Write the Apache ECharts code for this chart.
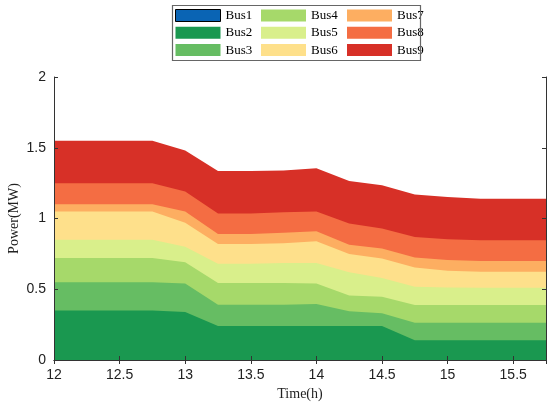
<!DOCTYPE html>
<html style="height: 100%">
<head>
    <meta charset="UTF-8">
    <title>Bus Power</title>
    <script src="https://cdn.jsdelivr.net/npm/echarts@6/dist/echarts.min.js"></script>
</head>
<body style="height: 100%; margin: 0; background: #fff">
    <div id="main" style="width: 550px; height: 406px;"></div>
    <script>
        // time steps (h)
        var times = [12, 12.25, 12.5, 12.75, 13, 13.25, 13.5, 13.75, 14, 14.25, 14.5, 14.75, 15, 15.25, 15.5, 15.75];
        var busNames = ['Bus1', 'Bus2', 'Bus3', 'Bus4', 'Bus5', 'Bus6', 'Bus7', 'Bus8', 'Bus9'];
        var busColors = ['#0a64b4', '#1a9850', '#66bd63', '#a6d96a', '#d9ef8b', '#fee08b', '#fdae61', '#f46d43', '#d73027'];

        // power of each bus (MW)
        var bus1 = [0, 0, 0, 0, 0, 0, 0, 0, 0, 0, 0, 0, 0, 0, 0, 0];
        var bus2 = [0.35, 0.35, 0.35, 0.35, 0.34, 0.24, 0.24, 0.24, 0.24, 0.24, 0.24, 0.14, 0.14, 0.14, 0.14, 0.14];
        var bus3 = [0.20, 0.20, 0.20, 0.20, 0.20, 0.15, 0.15, 0.15, 0.155, 0.105, 0.09, 0.123, 0.123, 0.123, 0.123, 0.123];
        var bus4 = [0.17, 0.17, 0.17, 0.17, 0.15, 0.155, 0.155, 0.155, 0.145, 0.11, 0.117, 0.125, 0.125, 0.125, 0.125, 0.125];
        var bus5 = [0.13, 0.13, 0.13, 0.13, 0.11, 0.135, 0.135, 0.14, 0.145, 0.165, 0.133, 0.129, 0.125, 0.122, 0.122, 0.122];
        var bus6 = [0.20, 0.20, 0.20, 0.20, 0.17, 0.14, 0.14, 0.14, 0.155, 0.13, 0.138, 0.137, 0.117, 0.113, 0.113, 0.113];
        var bus7 = [0.05, 0.05, 0.05, 0.05, 0.08, 0.07, 0.07, 0.075, 0.07, 0.065, 0.07, 0.071, 0.076, 0.077, 0.077, 0.077];
        var bus8 = [0.15, 0.15, 0.15, 0.15, 0.14, 0.145, 0.145, 0.145, 0.14, 0.15, 0.142, 0.145, 0.148, 0.147, 0.147, 0.147];
        var bus9 = [0.30, 0.30, 0.30, 0.30, 0.29, 0.30, 0.30, 0.295, 0.305, 0.30, 0.305, 0.30, 0.298, 0.293, 0.293, 0.293];
        var busData = [bus1, bus2, bus3, bus4, bus5, bus6, bus7, bus8, bus9];

        var myChart = echarts.init(document.getElementById('main'));

        // running totals, each layer's area drawn from 0 up to its cumulative top;
        // upper layers are drawn first so the lower ones cover them
        var running = times.map(function () { return 0; });
        var series = busNames.map(function (name, i) {
            running = running.map(function (s, k) { return s + busData[i][k]; });
            return {
                name: name,
                type: 'line',
                z: 20 - i,
                showSymbol: false,
                symbol: 'none',
                lineStyle: { width: 0 },
                itemStyle: { color: busColors[i] },
                areaStyle: { color: busColors[i], opacity: 1 },
                data: running.map(function (v, k) { return [times[k], +v.toFixed(4)]; })
            };
        }).reverse();

        // legend: 3 columns, column-major order
        function legendCol(names, left) {
            return {
                orient: 'vertical',
                left: left,
                top: 4,
                icon: 'rect',
                itemWidth: 45,
                itemHeight: 12,
                itemGap: 4.3,
                textStyle: { fontFamily: 'Liberation Serif', fontSize: 13, color: '#000' },
                data: names.map(function (n) {
                    var d = { name: n };
                    if (n === 'Bus1') d.itemStyle = { borderColor: '#000', borderWidth: 1 };
                    return d;
                })
            };
        }

        var axisLine = { show: true, lineStyle: { color: '#333', width: 1 } };
        var labelStyle = { fontFamily: 'Liberation Sans', fontSize: 14, color: '#222' };

        var option = {
            animation: false,
            grid: { left: 54, right: 4, top: 77, bottom: 46, outerBoundsMode: 'none', containLabel: false },
            legend: [
                legendCol(['Bus1', 'Bus2', 'Bus3'], 170),
                legendCol(['Bus4', 'Bus5', 'Bus6'], 256),
                legendCol(['Bus7', 'Bus8', 'Bus9'], 342)
            ],
            graphic: [{
                type: 'rect',
                left: 170,
                top: 3,
                shape: { width: 248, height: 55 },
                style: { fill: 'none', stroke: '#666', lineWidth: 1.2 },
                z: 10
            }],
            xAxis: [{
                type: 'value',
                min: 12,
                max: 15.75,
                interval: 0.5,
                name: 'Time(h)',
                nameLocation: 'middle',
                nameGap: 27,
                nameTextStyle: { fontFamily: 'Liberation Serif', fontSize: 14, color: '#222' },
                axisLine: axisLine,
                axisTick: { inside: true, length: 4, lineStyle: { color: '#333' } },
                axisLabel: Object.assign({ showMaxLabel: false, margin: 8 }, labelStyle),
                splitLine: { show: false },
                z: 30
            }, {
                type: 'value',
                position: 'top',
                min: 12,
                max: 15.75,
                interval: 0.5,
                axisLine: axisLine,
                axisTick: { inside: true, length: 4, lineStyle: { color: '#333' } },
                axisLabel: { show: false },
                splitLine: { show: false },
                z: 30
            }],
            yAxis: [{
                type: 'value',
                min: 0,
                max: 2,
                interval: 0.5,
                name: 'Power(MW)',
                nameLocation: 'middle',
                nameGap: 33,
                nameMoveOverlap: false,
                nameTextStyle: { fontFamily: 'Liberation Serif', fontSize: 14, color: '#222' },
                axisLine: axisLine,
                axisTick: { show: true, inside: true, length: 4, lineStyle: { color: '#333' } },
                axisLabel: labelStyle,
                splitLine: { show: false },
                z: 30
            }, {
                type: 'value',
                position: 'right',
                min: 0,
                max: 2,
                interval: 0.5,
                axisLine: axisLine,
                axisTick: { show: true, inside: true, length: 4, lineStyle: { color: '#333' } },
                axisLabel: { show: false },
                splitLine: { show: false },
                z: 30
            }],
            series: series
        };

        myChart.setOption(option);
    </script>
</body>
</html>
